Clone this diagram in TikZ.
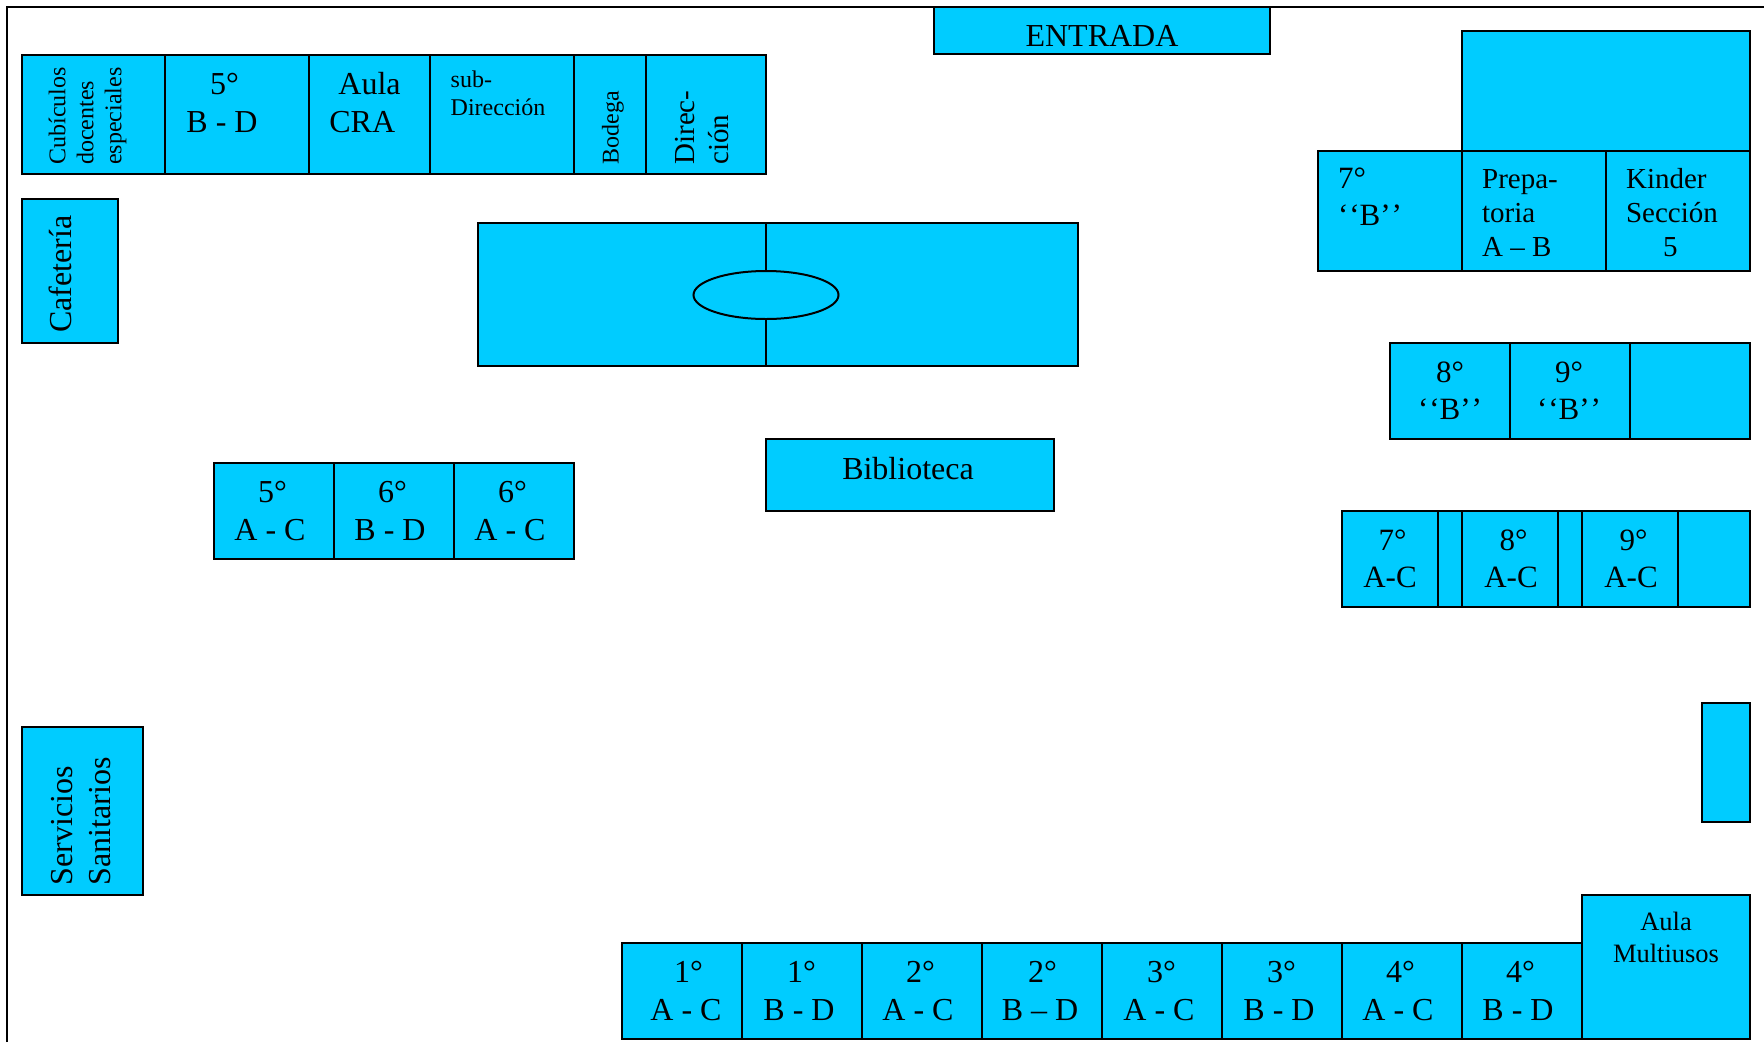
\documentclass[tikz,border=0pt]{standalone}
\usepackage{fontspec}
\setmainfont{Liberation Serif}
\usetikzlibrary{positioning, shapes.geometric}
\definecolor{aula}{HTML}{00CCFF}
\newcommand{\gr}[1]{\hspace*{5pt}#1°}
\newcommand{\comillas}{‘\kern1pt‘B’\kern1pt’}

\begin{document}
\begin{tikzpicture}[x=1pt,y=-1pt,node distance=0pt,line width=2pt,
  room/.style={draw,fill=aula,inner sep=0pt,outer sep=0pt},
  corner/.style={room,anchor=north west},
  big/.style={inner sep=0pt,align=center,font=\fontsize{32}{38}\selectfont},
  tall/.style={inner sep=0pt,align=center,font=\fontsize{31}{37}\selectfont},
  mid/.style={inner sep=0pt,align=center,font=\fontsize{29}{34}\selectfont},
  small/.style={inner sep=0pt,align=center,font=\fontsize{24}{28}\selectfont}]

  \useasboundingbox (0,0) rectangle (1764,1042);

  \coordinate (framea) at (7,1042);
  \coordinate (frameb) at (7,7);
  \coordinate (framec) at (1764,7);
  \draw (framea) -- (frameb) -- (framec);

  % top row
  \node[corner,minimum width=143pt,minimum height=119pt] (cubiculos) at (22,55) {};
  \node[room,minimum width=144pt,minimum height=119pt,right=of cubiculos] (quintoBD) {};
  \node[room,minimum width=121pt,minimum height=119pt,right=of quintoBD] (cra) {};
  \node[room,minimum width=144pt,minimum height=119pt,right=of cra] (subdir) {};
  \node[room,minimum width=72pt,minimum height=119pt,right=of subdir] (bodega) {};
  \node[room,minimum width=120pt,minimum height=119pt,right=of bodega] (direccion) {};

  \node[corner,minimum width=336pt,minimum height=47pt] (entrada) at (934,7) {};
  \node[corner,minimum width=96pt,minimum height=144pt] (cafeteria) at (22,199) {};

  % cancha
  \node[corner,minimum width=600pt,minimum height=143pt] (cancha) at (478,223) {};
  \node[room,ellipse,minimum width=145pt,minimum height=48pt] (circulo) at (766,295) {};
  \draw (circulo.north) -- (circulo.north |- cancha.north);
  \draw (circulo.south) -- (circulo.south |- cancha.south);

  \node[corner,minimum width=288pt,minimum height=72pt] (biblioteca) at (766,439) {};

  \node[corner,minimum width=120pt,minimum height=96pt] (quintoAC) at (214,463) {};
  \node[room,minimum width=120pt,minimum height=96pt,right=of quintoAC] (sextoBD) {};
  \node[room,minimum width=120pt,minimum height=96pt,right=of sextoBD] (sextoAC) {};

  \node[corner,minimum width=121pt,minimum height=168pt] (servicios) at (22,727) {};

  % right side
  \node[corner,minimum width=288pt,minimum height=120pt] (bloque) at (1462,31) {};
  \node[corner,minimum width=144pt,minimum height=120pt] (septimoB) at (1318,151) {};
  \node[room,minimum width=144pt,minimum height=120pt,right=of septimoB] (prepa) {};
  \node[room,minimum width=144pt,minimum height=120pt,right=of prepa] (kinder) {};

  \node[corner,minimum width=120pt,minimum height=96pt] (octavoB) at (1390,343) {};
  \node[room,minimum width=120pt,minimum height=96pt,right=of octavoB] (novenoB) {};
  \node[room,minimum width=120pt,minimum height=96pt,right=of novenoB] (vacioB) {};

  \node[corner,minimum width=96pt,minimum height=96pt] (septimoAC) at (1342,511) {};
  \node[room,minimum width=24pt,minimum height=96pt,right=of septimoAC] (pasoa) {};
  \node[room,minimum width=96pt,minimum height=96pt,right=of pasoa] (octavoAC) {};
  \node[room,minimum width=24pt,minimum height=96pt,right=of octavoAC] (pasob) {};
  \node[room,minimum width=96pt,minimum height=96pt,right=of pasob] (novenoAC) {};
  \node[room,minimum width=72pt,minimum height=96pt,right=of novenoAC] (vacioAC) {};

  \node[corner,minimum width=48pt,minimum height=119pt] (caseta) at (1702,703) {};

  % bottom row
  \node[corner,minimum width=120pt,minimum height=96pt] (primeroAC) at (622,943) {};
  \node[room,minimum width=120pt,minimum height=96pt,right=of primeroAC] (primeroBD) {};
  \node[room,minimum width=120pt,minimum height=96pt,right=of primeroBD] (segundoAC) {};
  \node[room,minimum width=120pt,minimum height=96pt,right=of segundoAC] (segundoBD) {};
  \node[room,minimum width=120pt,minimum height=96pt,right=of segundoBD] (terceroAC) {};
  \node[room,minimum width=120pt,minimum height=96pt,right=of terceroAC] (terceroBD) {};
  \node[room,minimum width=120pt,minimum height=96pt,right=of terceroBD] (cuartoAC) {};
  \node[room,minimum width=120pt,minimum height=96pt,right=of cuartoAC] (cuartoBD) {};
  \node[corner,minimum width=168pt,minimum height=144pt] (multiusos) at (1582,895) {};

  % texts
  \node[small,rotate=90,align=left] (tcubiculos) at (87.5,116) {Cubículos\\docentes\\especiales};
  \node[big] (tquintoBD) at (222,103) {\gr{5}\\B - D};
  \node[big,align=left] (tcra) at (365,103) {\hspace*{9pt}Aula\\CRA};
  \node[small,align=left] (tsubdir) at (498,93) {sub-\\Dirección};
  \node[small,rotate=90] (tbodega) at (613,128) {Bodega};
  \node[mid,rotate=90,align=left] (tdireccion) at (702,127.5) {Direc-\\ción};
  \node[big] (tentrada) at (1102,36) {ENTRADA};
  \node[big,rotate=90] (tcafeteria) at (60.5,274) {Cafetería};
  \node[big] (tbiblioteca) at (908,469) {Biblioteca};
  \node[big] (tquintoAC) at (270,511) {\gr{5}\\A - C};
  \node[big] (tsextoBD) at (390,511) {\gr{6}\\B - D};
  \node[big] (tsextoAC) at (510,511) {\gr{6}\\A - C};
  \node[big,rotate=90,align=left] (tservicios) at (81,821) {Servicios\\Sanitarios};

  \node[tall,align=left] (tseptimoB) at (1370,197) {7°\\\comillas};
  \node[mid,align=left] (tprepa) at (1520,213) {Prepa-\\toria\\A – B};
  \node[mid,align=left] (tkinder) at (1672,213) {Kinder\\Sección\\\hspace*{37pt}5};
  \node[tall] (toctavoB) at (1450,391) {8°\\\comillas};
  \node[tall] (tnovenoB) at (1569,391) {9°\\\comillas};
  \node[tall] (tseptimoAC) at (1390,559) {\gr{7}\\A-C};
  \node[tall] (toctavoAC) at (1511,559) {\gr{8}\\A-C};
  \node[tall] (tnovenoAC) at (1631,559) {\gr{9}\\A-C};

  \node[big] (tprimeroAC) at (686,991) {\gr{1}\\A - C};
  \node[big] (tprimeroBD) at (799,991) {\gr{1}\\B - D};
  \node[big] (tsegundoAC) at (918,991) {\gr{2}\\A - C};
  \node[big] (tsegundoBD) at (1040,991) {\gr{2}\\B – D};
  \node[big] (tterceroAC) at (1159,991) {\gr{3}\\A - C};
  \node[big] (tterceroBD) at (1279,991) {\gr{3}\\B - D};
  \node[big] (tcuartoAC) at (1398,991) {\gr{4}\\A - C};
  \node[big] (tcuartoBD) at (1518,991) {\gr{4}\\B - D};
  \node[small,font=\fontsize{26.5}{32}\selectfont] (tmultiusos) at (1666,937) {Aula\\Multiusos};
\end{tikzpicture}
\end{document}
